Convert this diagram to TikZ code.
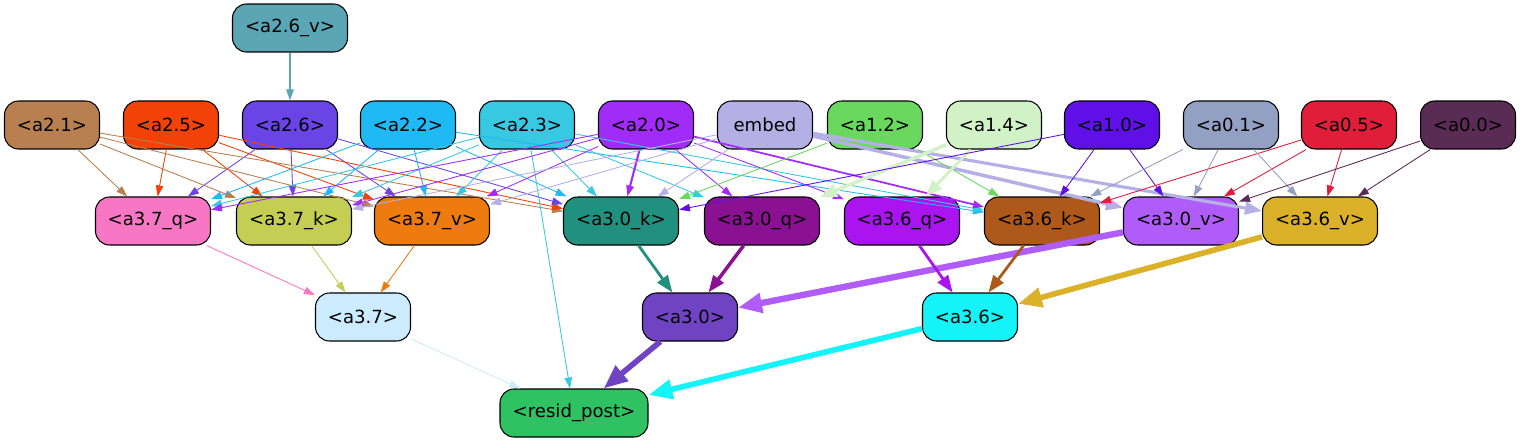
\documentclass[tikz,border=0pt]{standalone}
\usepackage{fontspec}
\setmainfont{DejaVu Sans}
\usetikzlibrary{arrows.meta}

\definecolor{cAvsix}{RGB}{91,166,180}
\definecolor{cAtwoone}{RGB}{184,128,80}
\definecolor{cAtwofive}{RGB}{242,66,7}
\definecolor{cAtwosix}{RGB}{107,68,230}
\definecolor{cAtwotwo}{RGB}{31,185,245}
\definecolor{cAtwothree}{RGB}{55,200,226}
\definecolor{cAtwozero}{RGB}{162,44,247}
\definecolor{cembed}{RGB}{180,176,230}
\definecolor{cAonetwo}{RGB}{106,216,95}
\definecolor{cAonefour}{RGB}{209,242,198}
\definecolor{cAonezero}{RGB}{95,16,230}
\definecolor{cAzeroone}{RGB}{146,160,196}
\definecolor{cAzerofive}{RGB}{225,30,58}
\definecolor{cAzerozero}{RGB}{90,43,85}
\definecolor{cBsevq}{RGB}{247,119,197}
\definecolor{cBsevk}{RGB}{196,206,82}
\definecolor{cBsevv}{RGB}{238,123,14}
\definecolor{cBzerk}{RGB}{34,144,126}
\definecolor{cBzerq}{RGB}{138,17,145}
\definecolor{cBsixq}{RGB}{170,20,239}
\definecolor{cBsixk}{RGB}{174,88,25}
\definecolor{cBzerv}{RGB}{176,92,248}
\definecolor{cBsixv}{RGB}{220,177,42}
\definecolor{cBsev}{RGB}{204,235,255}
\definecolor{cBzer}{RGB}{112,67,194}
\definecolor{cBsix}{RGB}{19,243,248}
\definecolor{cresid}{RGB}{47,194,99}

\tikzset{
  blk/.style={draw, line width=0.6pt, rounded corners=0.28cm, minimum height=0.96cm,
    minimum width=1.9cm, inner sep=0pt, font=\fontsize{10.3}{12}\selectfont},
  wblk/.style={blk, minimum width=2.3cm},
  ed/.style={draw=#1, line width=0.5pt, -{Triangle[length=0.22cm,width=0.15cm]}},
  hed/.style={draw=#1, line width=1.3pt, -{Triangle[length=0.34cm,width=0.25cm]}},
  bed/.style={draw=#1, line width=2.4pt, -{Triangle[length=0.48cm,width=0.38cm]}},
}

\begin{document}
\begin{tikzpicture}[x=0.02cm,y=-0.02cm]
    \useasboundingbox (0,0) rectangle (1521,443);
    % top row
    \node[wblk,fill=cAvsix] (a26v) at (290,28) {<a2.6\_v>};
    %
    \node[blk,fill=cAtwoone] (a21) at (52,125) {<a2.1>};
    \node[blk,fill=cAtwofive] (a25) at (171,125) {<a2.5>};
    \node[blk,fill=cAtwosix] (a26) at (290,125) {<a2.6>};
    \node[blk,fill=cAtwotwo] (a22) at (408,125) {<a2.2>};
    \node[blk,fill=cAtwothree] (a23) at (527,125) {<a2.3>};
    \node[blk,fill=cAtwozero] (a20) at (646,125) {<a2.0>};
    \node[blk,fill=cembed] (emb) at (765,125) {embed};
    \node[blk,fill=cAonetwo] (a12) at (875,125) {<a1.2>};
    \node[blk,fill=cAonefour] (a14) at (994,125) {<a1.4>};
    \node[blk,fill=cAonezero] (a10) at (1112,125) {<a1.0>};
    \node[blk,fill=cAzeroone] (a01) at (1231,125) {<a0.1>};
    \node[blk,fill=cAzerofive] (a05) at (1349,125) {<a0.5>};
    \node[blk,fill=cAzerozero] (a00) at (1468,125) {<a0.0>};
    %
    \node[wblk,fill=cBsevq] (b37q) at (153,221) {<a3.7\_q>};
    \node[wblk,fill=cBsevk] (b37k) at (294,221) {<a3.7\_k>};
    \node[wblk,fill=cBsevv] (b37v) at (432,221) {<a3.7\_v>};
    \node[wblk,fill=cBzerk] (b30k) at (621,221) {<a3.0\_k>};
    \node[wblk,fill=cBzerq] (b30q) at (762,221) {<a3.0\_q>};
    \node[wblk,fill=cBsixq] (b36q) at (902,221) {<a3.6\_q>};
    \node[wblk,fill=cBsixk] (b36k) at (1042,221) {<a3.6\_k>};
    \node[wblk,fill=cBzerv] (b30v) at (1181,221) {<a3.0\_v>};
    \node[wblk,fill=cBsixv] (b36v) at (1320,221) {<a3.6\_v>};
    %
    \node[blk,fill=cBsev] (b37) at (363,317) {<a3.7>};
    \node[blk,fill=cBzer] (b30) at (690,317) {<a3.0>};
    \node[blk,fill=cBsix] (b36) at (970,317) {<a3.6>};
    \node[blk,fill=cresid,minimum width=2.96cm] (res) at (574,413) {<resid\_post>};
    %
    \draw[ed=cAvsix,line width=0.8pt] (a26v) -- (a26);
    \foreach \t in {b37q,b37k,b37v,b30k} {
        \draw[ed=cAtwoone] (a21) -- (\t);
        \draw[ed=cAtwofive] (a25) -- (\t);
        \draw[ed=cAtwosix] (a26) -- (\t);
    }
    \foreach \t in {b37q,b37k,b37v,b30k,b36k} \draw[ed=cAtwotwo] (a22) -- (\t);
    \foreach \t in {b37q,b37k,b37v,b30k,b30q,b36k,res} \draw[ed=cAtwothree] (a23) -- (\t);
    \foreach \t in {b37q,b37k,b37v,b30q,b36q} \draw[ed=cAtwozero] (a20) -- (\t);
    \draw[ed=cAtwozero,line width=1.2pt] (a20) -- (b30k);
    \draw[ed=cAtwozero,line width=1pt] (a20) -- (b36k);
    \foreach \t in {b37k,b37v,b30k} \draw[ed=cembed] (emb) -- (\t);
    \draw[hed=cembed,line width=2pt] (emb) -- (b30v);
    \draw[hed=cembed,line width=1.8pt] (emb) -- (b36v);
    \foreach \t in {b30k,b36k} \draw[ed=cAonetwo] (a12) -- (\t);
    \draw[hed=cAonefour,line width=2pt] (a14) -- (b30q);
    \draw[hed=cAonefour,line width=1.6pt] (a14) -- (b36q);
    \foreach \t in {b30k,b36k,b30v} \draw[ed=cAonezero] (a10) -- (\t);
    \foreach \t in {b36k,b30v,b36v} {
        \draw[ed=cAzeroone] (a01) -- (\t);
        \draw[ed=cAzerofive] (a05) -- (\t);
    }
    \foreach \t in {b30v,b36v} \draw[ed=cAzerozero] (a00) -- (\t);
    %
    \draw[ed=cBsevq] (b37q) -- (b37);
    \draw[ed=cBsevk] (b37k) -- (b37);
    \draw[ed=cBsevv] (b37v) -- (b37);
    \draw[hed=cBzerk,line width=1.6pt] (b30k) -- (b30);
    \draw[hed=cBzerq,line width=2pt] (b30q) -- (b30);
    \draw[bed=cBzerv,line width=3.6pt] (b30v) -- (b30);
    \draw[hed=cBsixq,line width=1.6pt] (b36q) -- (b36);
    \draw[hed=cBsixk,line width=1.6pt] (b36k) -- (b36);
    \draw[bed=cBsixv,line width=3.2pt] (b36v) -- (b36);
    %
    \draw[ed=cBsev] (b37) -- (res);
    \draw[bed=cBzer,line width=3.2pt] (b30) -- (res);
    \draw[bed=cBsix,line width=3.2pt] (b36) -- (res);
\end{tikzpicture}
\end{document}
